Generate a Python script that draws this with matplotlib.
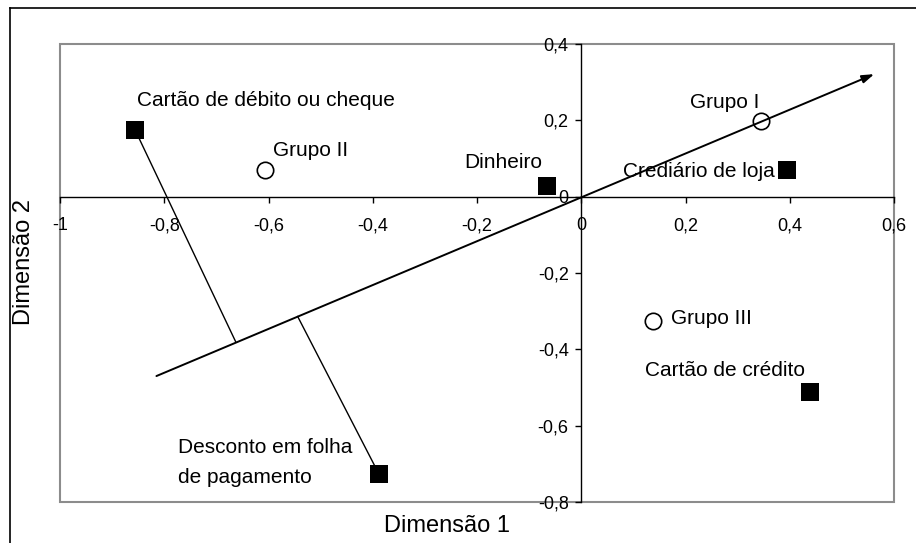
"""Mapa de correspondência: formas de pagamento x grupos (Dimensão 1 x Dimensão 2)."""

import matplotlib
matplotlib.use("Agg")
import matplotlib.pyplot as plt
from matplotlib.lines import Line2D
from matplotlib.patches import Rectangle
from matplotlib.ticker import FixedLocator, FuncFormatter

plt.rcParams["font.family"] = ["Liberation Sans", "DejaVu Sans"]
plt.rcParams["axes.unicode_minus"] = False

# formas de pagamento (quadrados)
pay_labels = [
    "Cartão de débito ou cheque",
    "Dinheiro",
    "Crediário de loja",
    "Cartão de crédito",
    "Desconto em folha\nde pagamento",
]
pay_x = [-0.856, -0.065, 0.395, 0.438, -0.388]
pay_y = [0.175, 0.029, 0.070, -0.511, -0.727]

# grupos (círculos)
group_labels = ["Grupo I", "Grupo II", "Grupo III"]
group_x = [0.345, -0.606, 0.138]
group_y = [0.197, 0.070, -0.327]

# eixo de projeção (seta) e pés das perpendiculares
axis_x = [-0.815, 0.562]
axis_y = [-0.470, 0.321]
proj_from = [0, 4]  # índices em pay_* ligados ao eixo
foot_x = [-0.663, -0.544]
foot_y = [-0.380, -0.314]

x_ticks = [-1, -0.8, -0.6, -0.4, -0.2, 0, 0.2, 0.4, 0.6]
y_ticks = [-0.8, -0.6, -0.4, -0.2, 0, 0.2, 0.4]

# posição dos rótulos: (dx pt, dy pt, ha)
pay_offsets = [(1.4, 17.3, "left"), (-3.6, 12.7, "right"), (-8.6, -4.8, "right"),
               (-3.6, 11.3, "right"), (-144.7, -6.5, "left")]
group_offsets = [(-1.4, 9.9, "right"), (5.8, 10.1, "left"), (13.0, -1.7, "left")]


def _fmt(v, _pos=None):
    if abs(v) < 1e-9:
        return "0"
    s = f"{v:.1f}".rstrip("0").rstrip(".")
    return s.replace(".", ",")


fig = plt.figure(figsize=(9.16, 5.43), dpi=100)
ax = fig.add_axes([60 / 916, 41 / 543, 834 / 916, 458 / 543])
ax.set_xlim(-1, 0.6)
ax.set_ylim(-0.8, 0.4)

# moldura cinza da área de plotagem, eixos pretos cruzando na origem
for side in ("top", "right"):
    ax.spines[side].set_visible(False)
ax.add_patch(Rectangle((0, 0), 1, 1, transform=ax.transAxes, fill=False,
                       edgecolor="#8c8c8c", lw=1.5, zorder=0.5, clip_on=False))
ax.spines["left"].set_position(("data", 0))
ax.spines["bottom"].set_position(("data", 0))
for side in ("left", "bottom"):
    ax.spines[side].set_color("black")
    ax.spines[side].set_linewidth(1.0)
    ax.spines[side].set_zorder(1)

ax.xaxis.set_major_locator(FixedLocator(x_ticks))
ax.yaxis.set_major_locator(FixedLocator(y_ticks))
ax.xaxis.set_major_formatter(FuncFormatter(_fmt))
ax.yaxis.set_major_formatter(FuncFormatter(_fmt))
ax.tick_params(axis="x", direction="out", length=4, width=1.0, pad=11, labelsize=13)
ax.tick_params(axis="y", direction="out", length=4, width=1.0, pad=5, labelsize=13)

# seta do eixo de projeção
ax.annotate("", xy=(axis_x[1], axis_y[1]), xytext=(axis_x[0], axis_y[0]),
            arrowprops=dict(arrowstyle="-|>,head_length=0.6,head_width=0.2",
                            color="black", lw=1.4, shrinkA=0, shrinkB=0,
                            mutation_scale=12),
            zorder=2)

# perpendiculares até o eixo
for i, fx, fy in zip(proj_from, foot_x, foot_y):
    ax.plot([pay_x[i], fx], [pay_y[i], fy], color="black", lw=1.0, zorder=2)

ax.plot(pay_x, pay_y, ls="none", marker="s", ms=12.8, mfc="black", mec="black",
        mew=0, zorder=3, clip_on=False)
ax.plot(group_x, group_y, ls="none", marker="o", ms=11.8, mfc="none", mec="black",
        mew=1.2, zorder=3, clip_on=False)

for lab, x, y, (dx, dy, ha) in zip(pay_labels, pay_x, pay_y, pay_offsets):
    ax.annotate(lab, (x, y), xytext=(dx, dy), textcoords="offset points",
                ha=ha, va="baseline", fontsize=15, linespacing=1.75,
                multialignment="left", zorder=4)
for lab, x, y, (dx, dy, ha) in zip(group_labels, group_x, group_y, group_offsets):
    ax.annotate(lab, (x, y), xytext=(dx, dy), textcoords="offset points",
                ha=ha, va="baseline", fontsize=15, zorder=4)

fig.text(447 / 916, 11 / 543, "Dimensão 1", ha="center", va="baseline", fontsize=17)
fig.text(24 / 916, 1 - 262 / 543, "Dimensão 2", ha="center", va="center",
         rotation=90, fontsize=17)

# moldura externa do gráfico
fig.add_artist(Line2D([10 / 916, 1.0], [1 - 8 / 543] * 2, transform=fig.transFigure,
                      color="black", lw=1.2))
fig.add_artist(Line2D([10 / 916] * 2, [0.0, 1 - 8 / 543], transform=fig.transFigure,
                      color="black", lw=1.2))

fig.savefig("out.png", dpi=100)
